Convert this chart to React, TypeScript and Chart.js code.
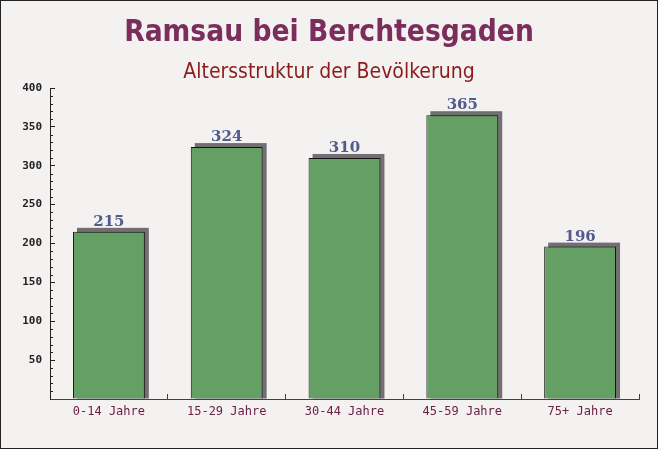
import React, { useEffect, useRef } from "react";
import { Chart, registerables } from "chart.js";

Chart.register(...registerables);

const categories = ["0-14 Jahre", "15-29 Jahre", "30-44 Jahre", "45-59 Jahre", "75+ Jahre"];
const values = [215, 324, 310, 365, 196];
const titleText = "Ramsau bei Berchtesgaden";
const subtitleText = "Altersstruktur der Bevölkerung";
const yMin = 0;
const yMax = 400;
const yMajorStep = 50;
const yMinorStep = 10;

const W = 658;
const H = 449;

const framePlugin = {
  id: "frame",
  beforeDraw(chart: any) {
    const ctx = chart.ctx;
    ctx.save();
    ctx.fillStyle = "#f4f1f1";
    ctx.fillRect(0, 0, chart.width, chart.height);
    ctx.restore();
  },
  afterDraw(chart: any) {
    const ctx = chart.ctx;
    ctx.save();
    ctx.textAlign = "center";
    ctx.textBaseline = "alphabetic";
    ctx.fillStyle = "#7b2d5c";
    ctx.font = "bold 29.6px 'DejaVu Sans Condensed', 'DejaVu Sans'";
    ctx.fillText(titleText, chart.width / 2, 41);
    ctx.fillStyle = "#8c1c1c";
    ctx.font = "21px 'DejaVu Sans Condensed', 'DejaVu Sans'";
    ctx.fillText(subtitleText, chart.width / 2, 78);
    ctx.strokeStyle = "#222";
    ctx.lineWidth = 1;
    ctx.strokeRect(0.5, 0.5, chart.width - 1, chart.height - 1);
    ctx.restore();
  },
};

const shadowPlugin = {
  id: "barShadow",
  beforeDatasetsDraw(chart: any) {
    const ctx = chart.ctx;
    const meta = chart.getDatasetMeta(0);
    ctx.save();
    ctx.fillStyle = "rgba(100,96,100,0.9)";
    meta.data.forEach((bar: any) => {
      const { x, y, base, width } = bar.getProps(["x", "y", "base", "width"], true);
      const left = x - width / 2 + 4;
      ctx.fillRect(left, y - 4, width, base - y + 4);
    });
    ctx.restore();
  },
};

const minorTickPlugin = {
  id: "minorTicks",
  afterDraw(chart: any) {
    const ctx = chart.ctx;
    const ys = chart.scales.y;
    ctx.save();
    ctx.strokeStyle = "#222";
    ctx.lineWidth = 1;
    for (let v = yMin + yMinorStep; v < yMax; v += yMinorStep) {
      if (v % yMajorStep === 0) continue;
      const py = Math.round(ys.getPixelForValue(v)) + 0.5;
      ctx.beginPath();
      ctx.moveTo(ys.right, py);
      ctx.lineTo(ys.right + 3, py);
      ctx.stroke();
    }
    ctx.restore();
  },
};

const valueLabelPlugin = {
  id: "valueLabels",
  afterDatasetsDraw(chart: any) {
    const ctx = chart.ctx;
    const meta = chart.getDatasetMeta(0);
    const data = chart.data.datasets[0].data;
    ctx.save();
    ctx.font = "bold 15px 'DejaVu Serif'";
    ctx.fillStyle = "#515b8c";
    ctx.textAlign = "center";
    ctx.textBaseline = "alphabetic";
    meta.data.forEach((bar: any, i: number) => {
      ctx.fillText(String(data[i]), bar.x, bar.y - 6);
    });
    ctx.restore();
  },
};

export default function App() {
  const ref = useRef<HTMLCanvasElement | null>(null);

  useEffect(() => {
    document.body.style.margin = "0";
    if (!ref.current) return;
    const chart = new Chart(ref.current, {
      type: "bar",
      data: {
        labels: categories,
        datasets: [
          {
            data: values,
            backgroundColor: "rgb(100,160,100)",
            borderColor: "#111",
            borderWidth: { top: 1, left: 1, right: 1, bottom: 0 },
            borderSkipped: "bottom",
            categoryPercentage: 1,
            barPercentage: 0.61,
          },
        ],
      },
      options: {
        responsive: false,
        animation: false,
        devicePixelRatio: 1,
        layout: { padding: { left: 0, right: 19, top: 88, bottom: 0 } },
        plugins: {
          legend: { display: false },
          tooltip: { enabled: false },
          title: { display: false },
          subtitle: { display: false },
        },
        scales: {
          x: {
            grid: {
              display: true,
              drawOnChartArea: false,
              offset: true,
              tickLength: -5,
              tickColor: "#6b2a4a",
            },
            border: { display: true, color: "#6b2a4a", width: 1 },
            ticks: {
              color: "#6b2048",
              font: { family: "'DejaVu Sans Mono'", size: 12 },
              padding: 11,
              maxRotation: 0,
              autoSkip: false,
            },
            afterFit(scale: any) {
              scale.height = 50;
            },
          },
          y: {
            min: yMin,
            max: yMax,
            grid: {
              display: true,
              drawOnChartArea: false,
              tickLength: -5,
              tickColor: "#222",
            },
            border: { display: true, color: "#222", width: 1 },
            ticks: {
              stepSize: yMajorStep,
              color: "#222",
              font: { family: "'DejaVu Sans Mono'", size: 11, weight: "bold" },
              padding: 13,
              callback: (v: any) => (Number(v) === 0 ? "" : String(v)),
            },
            afterFit(scale: any) {
              scale.width = 50;
            },
          },
        },
      },
      plugins: [framePlugin, shadowPlugin, minorTickPlugin, valueLabelPlugin],
    });
    return () => chart.destroy();
  }, []);

  return (
    <div style={{ width: W, height: H }}>
      <canvas ref={ref} width={W} height={H} style={{ display: "block", width: W, height: H }} />
    </div>
  );
}
